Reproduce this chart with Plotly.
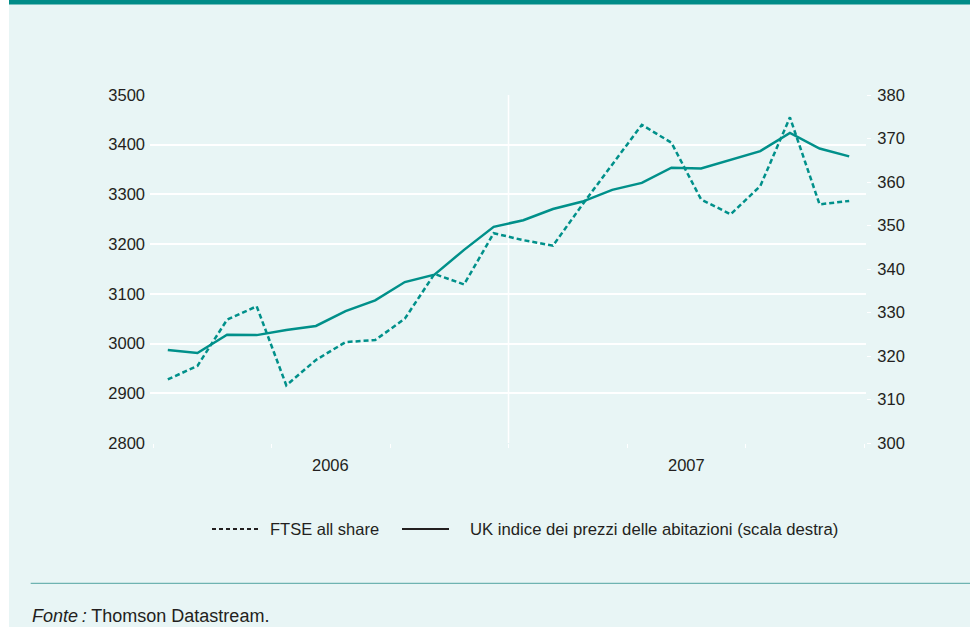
import plotly.graph_objects as go

# ---- data ----
months = ["2006-01", "2006-02", "2006-03", "2006-04", "2006-05", "2006-06",
          "2006-07", "2006-08", "2006-09", "2006-10", "2006-11", "2006-12",
          "2007-01", "2007-02", "2007-03", "2007-04", "2007-05", "2007-06",
          "2007-07", "2007-08", "2007-09", "2007-10", "2007-11", "2007-12"]
ftse_all_share = [2928, 2955, 3048, 3075, 2916, 2967, 3003, 3007, 3050, 3140, 3119, 3222,
                  3208, 3197, 3280, 3359, 3440, 3404, 3290, 3260, 3317, 3455, 3280, 3287]
uk_house_price = [321.4, 320.7, 324.9, 324.8, 326.0, 326.9, 330.3, 332.8, 337.0, 338.7, 344.4, 349.7,
                  351.2, 353.8, 355.5, 358.2, 359.8, 363.3, 363.1, 365.1, 367.1, 371.3, 367.7, 365.9]
years = ["2006", "2007"]
left_ticks = [2800, 2900, 3000, 3100, 3200, 3300, 3400, 3500]
right_ticks = [300, 310, 320, 330, 340, 350, 360, 370, 380]
legend_names = ["FTSE all share", "UK indice dei prezzi delle abitazioni (scala destra)"]
source_text = "<i>Fonte\u2009:</i> Thomson Datastream."

x = list(range(len(months)))

# ---- style ----
TEAL = "#00908A"
BG = "#E8F5F5"
TXT = "#231F20"
FONT = "Liberation Sans, Arial, Helvetica, sans-serif"
W, H = 970, 627
ML, MR, MT, MB = 150, 104, 95, 184
PW, PH = W - ML - MR, H - MT - MB


def px_x(p):
    return (p - ML) / PW


def px_y(p):
    return (H - MB - p) / PH


fig = go.Figure()
fig.add_trace(go.Scatter(x=x, y=ftse_all_share, mode="lines", name=legend_names[0],
                         line=dict(color=TEAL, width=2.5, dash="5px,3px"), showlegend=False))
fig.add_trace(go.Scatter(x=x, y=uk_house_price, mode="lines", name=legend_names[1], yaxis="y2",
                         line=dict(color=TEAL, width=2.5), showlegend=False))

shapes = [
    dict(type="rect", xref="paper", yref="paper", x0=px_x(0), x1=px_x(9), y0=px_y(H), y1=px_y(0),
         fillcolor="white", line=dict(width=0), layer="below"),
    dict(type="rect", xref="paper", yref="paper", x0=px_x(9), x1=px_x(W), y0=px_y(4.5), y1=px_y(0),
         fillcolor="#008C88", line=dict(width=0)),
    dict(type="line", xref="x", yref="paper", x0=11.5, x1=11.5, y0=0, y1=1,
         line=dict(color="white", width=1.5), layer="below"),
    dict(type="line", xref="paper", yref="paper", x0=px_x(30.7), x1=px_x(W), y0=px_y(583.3), y1=px_y(583.3),
         line=dict(color="#4FA3A1", width=1)),
    # legend samples
    dict(type="line", xref="paper", yref="paper", x0=px_x(212), x1=px_x(260), y0=px_y(529), y1=px_y(529),
         line=dict(color=TXT, width=2, dash="4px,3px")),
    dict(type="line", xref="paper", yref="paper", x0=px_x(402), x1=px_x(449), y0=px_y(529), y1=px_y(529),
         line=dict(color=TXT, width=2)),
]

annotations = [
    dict(text=years[0], x=5.5, xref="x", y=0, yref="paper", yanchor="middle", yshift=-22,
         showarrow=False, font=dict(size=16.5, color=TXT, family=FONT)),
    dict(text=years[1], x=17.5, xref="x", y=0, yref="paper", yanchor="middle", yshift=-22,
         showarrow=False, font=dict(size=16.5, color=TXT, family=FONT)),
    dict(text=legend_names[0], x=px_x(268), xref="paper", xanchor="left", y=px_y(529), yref="paper",
         yanchor="middle", showarrow=False, font=dict(size=16.5, color=TXT, family=FONT)),
    dict(text=legend_names[1], x=px_x(468), xref="paper", xanchor="left", y=px_y(529), yref="paper",
         yanchor="middle", showarrow=False, font=dict(size=16.7, color=TXT, family=FONT)),
    dict(text=source_text, x=px_x(30), xref="paper", xanchor="left", y=px_y(616), yref="paper",
         yanchor="middle", showarrow=False, font=dict(size=18, color=TXT, family=FONT)),
]

x_lo = -0.5 - 3 / 29.67
x_hi = 23.5 + 2 / 29.67

fig.update_layout(
    width=W, height=H,
    margin=dict(l=ML, r=MR, t=MT, b=MB, pad=0),
    paper_bgcolor=BG, plot_bgcolor="rgba(0,0,0,0)",
    font=dict(family=FONT, size=16.5, color=TXT),
    showlegend=False,
    xaxis=dict(range=[x_lo, x_hi], tickmode="array", tickvals=[-0.5, 3.5, 7.5, 11.5, 15.5, 19.5, 23.5],
               ticktext=[""] * 7, ticks="outside", ticklen=4, tickwidth=1.2, tickcolor="white",
               showgrid=False, zeroline=False, showline=False, fixedrange=True),
    yaxis=dict(range=[2800, 3500], tickmode="array", tickvals=left_ticks, ticks="",
               showgrid=True, gridcolor="white", gridwidth=1.5, zeroline=False, showline=False,
               ticklabelstandoff=4),
    yaxis2=dict(range=[300, 380], tickmode="array", tickvals=right_ticks, overlaying="y", side="right",
                ticks="outside", ticklen=4, tickcolor="white", tickwidth=1.2,
                showgrid=False, zeroline=False, showline=False, ticklabelstandoff=3),
    shapes=shapes,
    annotations=annotations,
)

fig.write_html("out.html",
               config={"displayModeBar": False},
               post_script="document.body.style.margin='0';document.body.style.padding='0';"
                           "document.documentElement.style.overflow='hidden';")
